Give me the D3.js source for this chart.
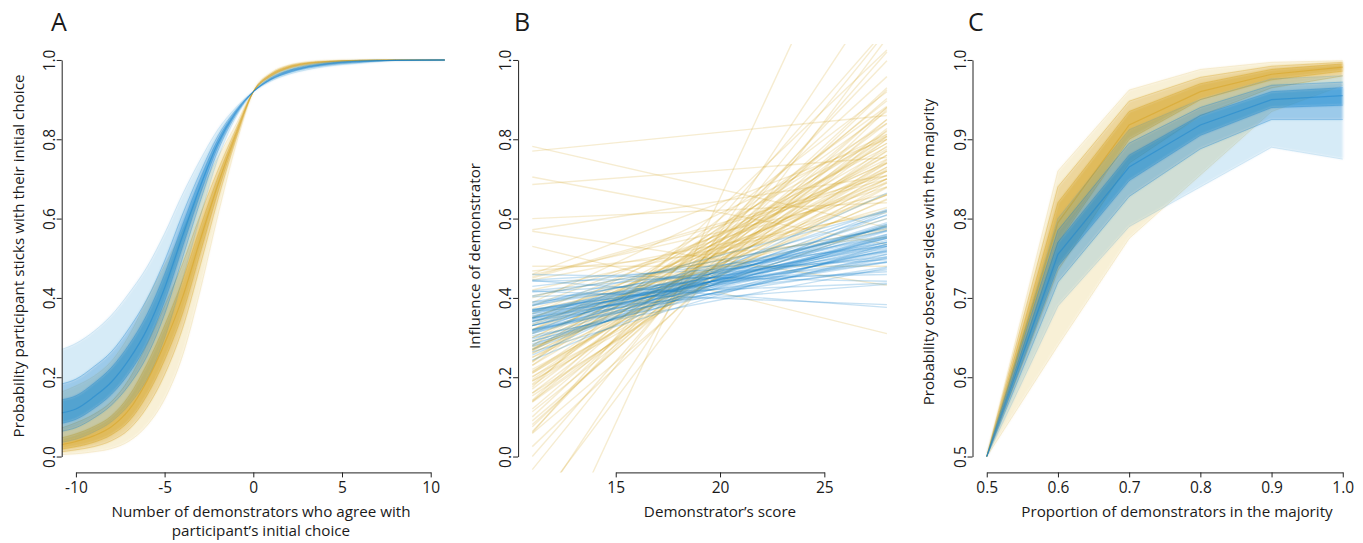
<!DOCTYPE html>
<html>
<head>
<meta charset="utf-8">
<script src="https://cdn.jsdelivr.net/npm/d3@7"></script>
<style>
  body { margin: 0; background: #fff; }
  svg text { font-family: "Open Sans", sans-serif; fill: #1a1a1a; }
</style>
</head>
<body>
<svg id="fig" width="1363" height="543"></svg>
<script>
// ---- Panel A: probability of sticking, quantile curves
const aX = [-10.8, -10, -9, -8, -7, -6, -5, -4, -3, -2, -1, 0, 1, 2, 3, 4, 6, 8, 10.8];
const aGold = [
  [0.005, 0.007, 0.012, 0.020, 0.039, 0.078, 0.145, 0.253, 0.418, 0.608, 0.782, 0.920, 0.968, 0.987, 0.995, 0.998, 1.000, 1.000, 1.000],
  [0.012, 0.017, 0.025, 0.040, 0.069, 0.124, 0.207, 0.322, 0.481, 0.648, 0.797, 0.920, 0.965, 0.985, 0.993, 0.996, 0.999, 1.000, 1.000],
  [0.019, 0.025, 0.036, 0.055, 0.090, 0.154, 0.244, 0.360, 0.513, 0.667, 0.803, 0.920, 0.964, 0.983, 0.992, 0.996, 0.999, 1.000, 1.000],
  [0.030, 0.038, 0.052, 0.075, 0.118, 0.190, 0.285, 0.400, 0.545, 0.685, 0.810, 0.920, 0.962, 0.982, 0.991, 0.995, 0.999, 1.000, 1.000],
  [0.047, 0.057, 0.075, 0.102, 0.153, 0.232, 0.330, 0.442, 0.576, 0.703, 0.816, 0.920, 0.960, 0.980, 0.990, 0.994, 0.999, 1.000, 1.000],
  [0.072, 0.085, 0.106, 0.138, 0.195, 0.281, 0.379, 0.484, 0.607, 0.721, 0.823, 0.920, 0.959, 0.979, 0.988, 0.993, 0.998, 0.999, 1.000],
  [0.163, 0.178, 0.202, 0.240, 0.305, 0.394, 0.482, 0.568, 0.666, 0.754, 0.835, 0.920, 0.955, 0.975, 0.985, 0.990, 0.997, 0.999, 0.999]
];
const aBlue = [
  [0.036, 0.044, 0.062, 0.088, 0.131, 0.196, 0.299, 0.446, 0.604, 0.751, 0.854, 0.920, 0.957, 0.977, 0.987, 0.993, 0.998, 1.000, 1.000],
  [0.064, 0.073, 0.097, 0.130, 0.181, 0.253, 0.360, 0.500, 0.643, 0.771, 0.860, 0.920, 0.955, 0.974, 0.985, 0.991, 0.997, 0.999, 1.000],
  [0.084, 0.094, 0.121, 0.157, 0.211, 0.285, 0.392, 0.528, 0.662, 0.781, 0.864, 0.920, 0.953, 0.973, 0.983, 0.990, 0.997, 0.999, 1.000],
  [0.110, 0.120, 0.150, 0.188, 0.245, 0.320, 0.425, 0.555, 0.680, 0.790, 0.867, 0.920, 0.952, 0.971, 0.982, 0.989, 0.996, 0.999, 1.000],
  [0.143, 0.153, 0.184, 0.224, 0.282, 0.357, 0.459, 0.582, 0.698, 0.799, 0.870, 0.920, 0.951, 0.969, 0.981, 0.988, 0.995, 0.999, 1.000],
  [0.183, 0.195, 0.226, 0.264, 0.323, 0.396, 0.493, 0.609, 0.715, 0.808, 0.873, 0.920, 0.950, 0.968, 0.979, 0.986, 0.994, 0.999, 0.999],
  [0.270, 0.285, 0.315, 0.356, 0.412, 0.477, 0.562, 0.660, 0.747, 0.824, 0.879, 0.920, 0.947, 0.964, 0.975, 0.983, 0.992, 0.998, 0.999]
];
const aTicksX = [-10, -5, 0, 5, 10];
const aTicksY = [0, 0.2, 0.4, 0.6, 0.8, 1.0];

// ---- Panel B: influence vs demonstrator score, one straight line per draw [y at 11, y at 28]
const bX = [11, 28];
const bGold = [
  [0.270, 0.730], [0.265, 0.775], [0.268, 0.693], [0.213, 0.808], [0.320, 0.660],
  [0.318, 0.743], [0.215, 0.725], [0.160, 0.840], [0.373, 0.628], [0.268, 0.812],
  [0.273, 0.647], [0.138, 0.903], [0.405, 0.575], [0.380, 0.720], [0.153, 0.748],
  [0.075, 0.925], [0.468, 0.553], [0.237, 0.883], [0.202, 0.678], [0.063, 0.998],
  [0.480, 0.480], [0.332, 0.808], [0.113, 0.827], [0.000, 1.020], [0.568, 0.432],
  [0.453, 0.708], [0.277, 0.583], [-0.033, 1.073], [0.705, 0.535], [-0.135, 1.055],
  [0.388, 0.813], [0.530, 0.310], [0.142, 0.958], [0.210, 0.771], [0.572, 0.708],
  [0.025, 0.875], [0.458, 0.662], [0.782, 0.578], [0.686, 0.754], [0.350, 0.690],
  [0.368, 0.572], [0.183, 0.897], [0.194, 0.806], [0.081, 0.880], [0.240, 0.920],
  [-0.370, 1.560], [-0.150, 1.200], [0.175, 1.025], [0.058, 0.823], [0.460, 0.800],
  [0.060, 1.080], [0.445, 0.615], [0.137, 0.783], [0.770, 0.860], [0.600, 0.640],
  [0.230, 0.760], [0.300, 0.700], [0.190, 0.740], [0.290, 0.790], [0.250, 0.650],
  [0.220, 0.700], [0.250, 0.740], [0.280, 0.760], [0.300, 0.720], [0.200, 0.800],
  [0.260, 0.680], [0.320, 0.780], [0.180, 0.770], [0.240, 0.820], [0.290, 0.660],
  [0.210, 0.730], [0.270, 0.790], [0.330, 0.700], [0.170, 0.850], [0.230, 0.870],
  [0.310, 0.750], [0.350, 0.660], [0.190, 0.690], [0.260, 0.710], [0.280, 0.840],
  [0.140, 0.800], [0.360, 0.740], [0.120, 0.880], [0.400, 0.680], [0.100, 0.930],
  [0.420, 0.620], [0.090, 0.850], [0.340, 0.600], [0.160, 0.720], [0.450, 0.700]
];
const bBlue = [
  [0.347, 0.534], [0.348, 0.552], [0.345, 0.515], [0.313, 0.568], [0.382, 0.518],
  [0.318, 0.522], [0.341, 0.579], [0.389, 0.491], [0.277, 0.583], [0.385, 0.555],
  [0.342, 0.478], [0.280, 0.620], [0.415, 0.466], [0.353, 0.608], [0.284, 0.556],
  [0.418, 0.503], [0.243, 0.617], [0.366, 0.434], [0.317, 0.623], [0.330, 0.551],
  [0.442, 0.459], [0.291, 0.529], [0.405, 0.575], [0.371, 0.490], [0.256, 0.664],
  [0.305, 0.475], [0.296, 0.585], [0.365, 0.535], [0.403, 0.437], [0.429, 0.531],
  [0.364, 0.517], [0.320, 0.541], [0.367, 0.554], [0.264, 0.536], [0.314, 0.586],
  [0.369, 0.471], [0.445, 0.496], [0.270, 0.610], [0.317, 0.504], [0.381, 0.619],
  [0.417, 0.383], [0.444, 0.376], [0.459, 0.442], [0.335, 0.545], [0.355, 0.525],
  [0.330, 0.520], [0.350, 0.540], [0.360, 0.560], [0.320, 0.500], [0.340, 0.570],
  [0.310, 0.550], [0.370, 0.530], [0.330, 0.580], [0.300, 0.510], [0.380, 0.570],
  [0.350, 0.490], [0.320, 0.600], [0.360, 0.510], [0.290, 0.560], [0.340, 0.530],
  [0.390, 0.540], [0.310, 0.590], [0.370, 0.500], [0.330, 0.550], [0.350, 0.580]
];
const bTicksX = [15, 20, 25];
const bTicksY = [0, 0.2, 0.4, 0.6, 0.8, 1.0];

// ---- Panel C: probability of siding with majority, quantile curves
const cX = [0.5, 0.6, 0.7, 0.8, 0.9, 1.0];
const cGold = [
  [0.5, 0.860, 0.962, 0.988, 0.997, 0.999],
  [0.5, 0.840, 0.948, 0.978, 0.992, 0.997],
  [0.5, 0.820, 0.935, 0.970, 0.988, 0.995],
  [0.5, 0.795, 0.918, 0.960, 0.982, 0.991],
  [0.5, 0.770, 0.900, 0.950, 0.975, 0.986],
  [0.5, 0.735, 0.870, 0.930, 0.965, 0.980],
  [0.5, 0.640, 0.775, 0.855, 0.935, 0.968]
];
const cBlue = [
  [0.5, 0.800, 0.912, 0.950, 0.976, 0.980],
  [0.5, 0.785, 0.895, 0.940, 0.968, 0.972],
  [0.5, 0.770, 0.880, 0.930, 0.960, 0.965],
  [0.5, 0.755, 0.865, 0.918, 0.950, 0.955],
  [0.5, 0.740, 0.848, 0.905, 0.940, 0.943],
  [0.5, 0.720, 0.828, 0.888, 0.925, 0.925],
  [0.5, 0.690, 0.790, 0.840, 0.890, 0.875]
];
const cTicksX = [0.5, 0.6, 0.7, 0.8, 0.9, 1.0];
const cTicksY = [0.5, 0.6, 0.7, 0.8, 0.9, 1.0];

const gold = '#D4A01A';
const blue = '#1683CE';

const svg = d3.select('#fig');
const plotTop = 44.1, plotBottom = 472.4;

// soft edge for the shaded bands, the original is a haze of thin lines
svg.append('defs').append('filter').attr('id', 'soft')
  .attr('x', '-5%').attr('y', '-5%').attr('width', '110%').attr('height', '110%')
  .append('feGaussianBlur').attr('stdDeviation', 1.3);

function drawPanel(p) {
  const x = d3.scaleLinear().domain(p.xDomain).range(p.xRange);
  const y = d3.scaleLinear().domain(p.yDomain).range([plotBottom, plotTop]);
  const g = svg.append('g');

  // clip to the plot region, like base R
  g.append('clipPath').attr('id', 'clip-' + p.id)
    .append('rect')
    .attr('x', p.xRange[0]).attr('y', plotTop)
    .attr('width', p.xRange[1] - p.xRange[0]).attr('height', plotBottom - plotTop);
  const plot = g.append('g').attr('clip-path', 'url(#clip-' + p.id + ')');

  p.draw(plot, x, y);

  // axes only span first to last tick
  const xa = x.copy().domain(d3.extent(p.xTicks)).range(d3.extent(p.xTicks).map(x));
  const ya = y.copy().domain(d3.extent(p.yTicks)).range(d3.extent(p.yTicks).map(y));

  const xAxis = g.append('g')
    .attr('transform', `translate(0,${plotBottom})`)
    .call(d3.axisBottom(xa).tickValues(p.xTicks).tickSize(5).tickSizeOuter(0)
      .tickPadding(5).tickFormat(p.xFmt));
  const yAxis = g.append('g')
    .attr('transform', `translate(${p.xRange[0]},0)`)
    .call(d3.axisLeft(ya).tickValues(p.yTicks).tickSize(5).tickSizeOuter(0).tickFormat(p.yFmt));
  [xAxis, yAxis].forEach(a => {
    a.selectAll('path, line').attr('stroke', '#222').attr('stroke-width', 1);
    a.selectAll('text').attr('font-size', 15.5).attr('font-family', null);
  });
  yAxis.selectAll('.tick text')
    .attr('transform', 'rotate(-90)')
    .attr('x', 0).attr('y', -7).attr('dy', 0)
    .attr('text-anchor', 'middle');

  g.append('text').attr('x', p.letterX).attr('y', 31)
    .attr('font-size', 25).text(p.letter);

  g.append('text')
    .attr('transform', `translate(${p.yTitleX},${p.yTitleY}) rotate(-90)`)
    .attr('text-anchor', 'middle').attr('font-size', 15.2).text(p.yTitle);

  p.xTitle.forEach((t, i) => {
    g.append('text').attr('x', p.xTitleX).attr('y', 517 + i * 18.5)
      .attr('text-anchor', 'middle').attr('font-size', 15.2).text(t);
  });
}

// quantile curves: shaded bands between matching pairs, then thin lines
function drawBands(plot, x, y, xs, curves, color, curve) {
  const n = curves.length;
  const area = d3.area().curve(curve)
    .x(d => x(d.x)).y0(d => y(d.lo)).y1(d => y(d.hi));
  const line = d3.line().curve(curve).x(d => x(d[0])).y(d => y(d[1]));
  const alphas = [0.16, 0.32, 0.5];
  const soft = plot.append('g').attr('filter', 'url(#soft)');
  for (let i = 0; i < Math.floor(n / 2); i++) {
    const rows = xs.map((v, k) => ({ x: v, lo: curves[i][k], hi: curves[n - 1 - i][k] }));
    soft.append('path').datum(rows)
      .attr('d', area).attr('fill', color).attr('fill-opacity', alphas[i]);
  }
  curves.forEach((c, i) => {
    plot.append('path').datum(xs.map((v, k) => [v, c[k]]))
      .attr('d', line).attr('fill', 'none').attr('stroke', color)
      .attr('stroke-width', i === Math.floor(n / 2) ? 1.2 : 0.7)
      .attr('stroke-opacity', i === 0 || i === n - 1 ? 0.2 : 0.45);
  });
}

function drawLines(plot, x, y, xs, rows, color, alpha, width) {
  const line = d3.line().x(d => x(d[0])).y(d => y(d[1]));
  plot.append('g').selectAll('path')
    .data(rows)
    .join('path')
    .attr('d', r => line(xs.map((v, k) => [v, r[k]])))
    .attr('fill', 'none').attr('stroke', color)
    .attr('stroke-width', width).attr('stroke-opacity', alpha);
}

const f1 = d3.format('.1f');

drawPanel({
  id: 'a', letter: 'A', letterX: 51,
  xDomain: [-10.8, 10.8], xRange: [61.7, 444.9], yDomain: [-0.04, 1.04],
  xTicks: aTicksX, yTicks: aTicksY, xFmt: d => String(d), yFmt: f1,
  yTitle: 'Probability participant sticks with their initial choice', yTitleX: 24, yTitleY: 256,
  xTitle: ['Number of demonstrators who agree with', 'participant\u2019s initial choice'], xTitleX: 261,
  draw: (plot, x, y) => {
    drawBands(plot, x, y, aX, aGold, gold, d3.curveMonotoneX);
    drawBands(plot, x, y, aX, aBlue, blue, d3.curveMonotoneX);
  }
});

drawPanel({
  id: 'b', letter: 'B', letterX: 514,
  xDomain: [10.32, 28.68], xRange: [518.1, 901.1], yDomain: [-0.04, 1.04],
  xTicks: bTicksX, yTicks: bTicksY, xFmt: d => String(d), yFmt: f1,
  yTitle: 'Influence of demonstrator', yTitleX: 480, yTitleY: 256,
  xTitle: ['Demonstrator\u2019s score'], xTitleX: 720,
  draw: (plot, x, y) => {
    drawLines(plot, x, y, bX, bGold, gold, 0.2, 1.4);
    drawLines(plot, x, y, bX, bBlue, blue, 0.24, 1.4);
  }
});

drawPanel({
  id: 'c', letter: 'C', letterX: 968,
  xDomain: [0.48, 1.02], xRange: [972.5, 1357.0], yDomain: [0.48, 1.02],
  xTicks: cTicksX, yTicks: cTicksY, xFmt: f1, yFmt: f1,
  yTitle: 'Probability observer sides with the majority', yTitleX: 934, yTitleY: 252,
  xTitle: ['Proportion of demonstrators in the majority'], xTitleX: 1177,
  draw: (plot, x, y) => {
    drawBands(plot, x, y, cX, cGold, gold, d3.curveLinear);
    drawBands(plot, x, y, cX, cBlue, blue, d3.curveLinear);
  }
});
</script>
</body>
</html>
